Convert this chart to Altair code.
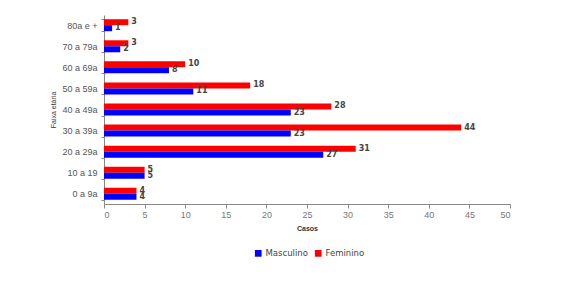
import altair as alt
import pandas as pd

categories = ["80a e +", "70 a 79a", "60 a 69a", "50 a 59a", "40 a 49a", "30 a 39a", "20 a 29a", "10 a 19", "0 a 9a"]
masculino = [1, 2, 8, 11, 23, 23, 27, 5, 4]
feminino = [3, 3, 10, 18, 28, 44, 31, 5, 4]
series = ["Masculino", "Feminino"]
colors = ["#0000FF", "#FF0000"]

rows = []
for c, m, f in zip(categories, masculino, feminino):
    rows.append({"faixa": c, "sexo": "Feminino", "casos": f, "ord": 0})
    rows.append({"faixa": c, "sexo": "Masculino", "casos": m, "ord": 1})
df = pd.DataFrame(rows)

font = "Liberation Sans"
lfont = "DejaVu Sans"

y_enc = alt.Y("faixa:N", sort=categories, title="Faixa etária",
              scale=alt.Scale(paddingInner=0.43, paddingOuter=0.2),
              axis=alt.Axis(tickBand="extent", labelFontSize=9, labelColor="#555",
                            titleFontSize=7, titleColor="#333", titleFontWeight="normal",
                            domainColor="#888", tickColor="#888", tickSize=3, labelPadding=4,
                            labelFont=font, titleFont=font, titlePadding=5))
yoff = alt.YOffset("ord:O", scale=alt.Scale(paddingInner=0, paddingOuter=0))

base = alt.Chart(df)

bars = base.mark_bar(size=6).encode(
    x=alt.X("casos:Q", title="Casos", scale=alt.Scale(domain=[0, 50]),
            axis=alt.Axis(values=list(range(0, 55, 5)), grid=False, labelFontSize=9,
                          labelColor="#777", titleFontSize=7, titleColor="#333",
                          titleFontWeight="bold", domainColor="#888", tickColor="#888",
                          labelFont=font, titleFont=font, tickSize=4, titlePadding=5)),
    y=y_enc,
    yOffset=yoff,
    color=alt.Color("sexo:N", scale=alt.Scale(domain=series, range=colors),
                    legend=alt.Legend(title=None, orient="none", direction="horizontal",
                                      legendX=150, legendY=234, symbolType="square",
                                      symbolSize=45, labelFontSize=8.5, labelColor="#444",
                                      labelFont=lfont, symbolStrokeWidth=0, columnPadding=6,
                                      labelOffset=3)),
)

labels = base.mark_text(align="left", baseline="middle", dx=3, fontSize=8,
                        fontWeight="bold", color="#444", font=lfont).encode(
    x="casos:Q",
    y=alt.Y("faixa:N", sort=categories),
    yOffset=yoff,
    text="casos:Q",
)

chart = (bars + labels).properties(
    width=406, height=189,
    padding={"left": 49, "top": 11, "right": 5, "bottom": 5},
).configure(background="white").configure_view(stroke="transparent", strokeWidth=0)

chart.save("out.html", embed_options={"renderer": "svg", "actions": False})
